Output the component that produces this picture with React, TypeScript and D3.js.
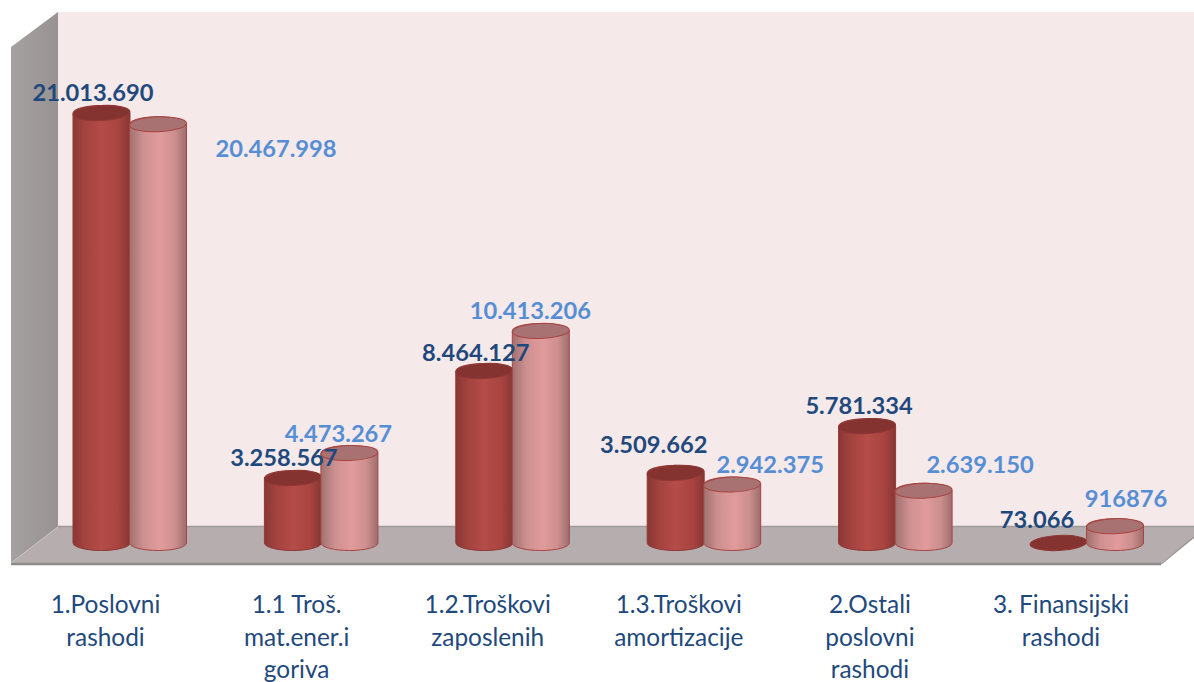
import React from "react";
import * as d3 from "d3";

const categories = [
  ["1.Poslovni", "rashodi"],
  ["1.1 Troš.", "mat.ener.i", "goriva"],
  ["1.2.Troškovi", "zaposlenih"],
  ["1.3.Troškovi", "amortizacije"],
  ["2.Ostali", "poslovni", "rashodi"],
  ["3. Finansijski", "rashodi"],
];
const keys = categories.map((c) => c.join(" "));
const series1 = [21013690, 3258567, 8464127, 3509662, 5781334, 73066];
const series2 = [20467998, 4473267, 10413206, 2942375, 2639150, 916876];
const labels1 = ["21.013.690", "3.258.567", "8.464.127", "3.509.662", "5.781.334", "73.066"];
const labels2 = ["20.467.998", "4.473.267", "10.413.206", "2.942.375", "2.639.150", "916876"];
// label offsets from the top of each cylinder (layout only)
const offsets1 = [[-8.5, -12], [-9, -12.5], [-8.5, -10], [-22, -20], [-8, -12], [-21.5, -15.5]];
const offsets2 = [[118, 32.5], [-11, -11], [-10.5, -12], [38, -12], [56.5, -18], [11, -19]];

const FONT = "Lato, Carlito, sans-serif";
const RX = 28.5;
const RY = 7.5;
const BASE = 543;

const y = d3.scaleLinear().domain([0, 21013690]).range([545, 113]);
const group = d3.scalePoint<string>().domain(keys).range([130, 1087]);
const catX = d3.scalePoint<string>().domain(keys).range([105.5, 1061]);

function cylinder(cx: number, top: number) {
  const l = cx - RX, r = cx + RX;
  const p = d3.path();
  p.moveTo(l, top);
  p.lineTo(l, BASE);
  return `${p.toString()} A ${RX} ${RY} 0 0 0 ${r} ${BASE} L ${r} ${top} A ${RX} ${RY} 0 0 0 ${l} ${top} Z`;
}

function Cyl({ cx, value, fill, top, edge, tilt }: { cx: number; value: number; fill: string; top: string; edge: string; tilt: number }) {
  const ty = Math.min(y(value), BASE);
  return (
    <g>
      {BASE - ty > 3 && <path d={cylinder(cx, ty)} fill={fill} stroke={edge} strokeWidth={1} />}
      <ellipse cx={cx} cy={ty} rx={RX} ry={RY} fill={top} stroke={edge} strokeWidth={1} transform={`rotate(${tilt} ${cx} ${ty})`} />
    </g>
  );
}

export default function App() {
  return (
    <svg width={1194} height={682} style={{ position: "absolute", left: 0, top: 0, background: "#fff" }}>
      <defs>
        <linearGradient id="dark" x1="0" x2="1" y1="0" y2="0">
          <stop offset="0" stopColor="#8a3734" />
          <stop offset="0.2" stopColor="#a2423f" />
          <stop offset="0.5" stopColor="#b54c48" />
          <stop offset="0.8" stopColor="#a84441" />
          <stop offset="1" stopColor="#873633" />
        </linearGradient>
        <linearGradient id="pink" x1="0" x2="1" y1="0" y2="0">
          <stop offset="0" stopColor="#a07170" />
          <stop offset="0.25" stopColor="#cf9091" />
          <stop offset="0.55" stopColor="#e19b9c" />
          <stop offset="0.8" stopColor="#cc8e8e" />
          <stop offset="1" stopColor="#9d6e6d" />
        </linearGradient>
        <linearGradient id="wall" x1="0" x2="1" y1="0" y2="0">
          <stop offset="0" stopColor="#a6a1a1" />
          <stop offset="1" stopColor="#989292" />
        </linearGradient>
      </defs>

      <rect x={58} y={12} width={1136} height={515} fill="#f5e9e9" />
      <polygon points="11,47 58,12 58,527 11,563" fill="url(#wall)" />
      <polygon points="58,526 1194,526 1194,537 1161,563 11,563" fill="#b6aeae" />
      <line x1={58} y1={526.5} x2={1194} y2={526.5} stroke="#a09a9a" strokeWidth={1.5} />
      <line x1={11} y1={564} x2={1161} y2={564} stroke="#8f8b8b" strokeWidth={2.5} />
      <line x1={1161} y1={564} x2={1194} y2={537} stroke="#9a9595" strokeWidth={1.5} />
      <line x1={11} y1={563} x2={58} y2={527} stroke="#c9c4c4" strokeWidth={1} />

      {keys.map((k, i) => {
        const g = group(k)!;
        return (
          <g key={k}>
            <Cyl cx={g - 28.5} value={series1[i]} fill="url(#dark)" top="#853330" edge="#8f3835" tilt={-3} />
            <Cyl cx={g + 28} value={series2[i]} fill="url(#pink)" top="#a87272" edge="#a84442" tilt={-2} />
          </g>
        );
      })}

      {keys.map((k, i) => {
        const g = group(k)!;
        return (
          <g key={k} fontFamily={FONT} fontWeight={700} fontSize={23.7} textAnchor="middle">
            <text x={g - 28.5 + offsets1[i][0]} y={y(series1[i]) + offsets1[i][1]} fill="#1f497d">{labels1[i]}</text>
            <text x={g + 28 + offsets2[i][0]} y={y(series2[i]) + offsets2[i][1]} fill="#558ed5">{labels2[i]}</text>
          </g>
        );
      })}

      {keys.map((k, i) => (
        <text key={k} fontFamily={FONT} fontSize={24.4} fill="#1f497d" textAnchor="middle">
          {categories[i].map((line, j) => (
            <tspan key={j} x={catX(k)} y={613 + j * 32.5}>{line}</tspan>
          ))}
        </text>
      ))}
    </svg>
  );
}
